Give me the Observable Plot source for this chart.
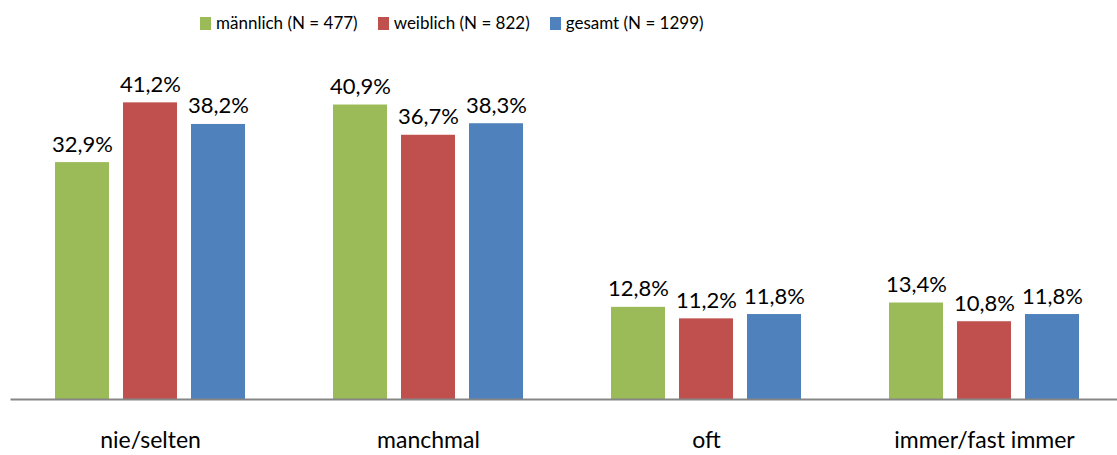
<!DOCTYPE html>
<html>
<head>
<meta charset="utf-8">
<script src="https://cdn.jsdelivr.net/npm/d3@7"></script>
<script src="https://cdn.jsdelivr.net/npm/@observablehq/plot@0.6"></script>
<style>
  body { margin: 0; background: #fff; font-family: Lato, sans-serif; }
  #legend { height: 45px; width: 1117px; display: flex; align-items: center; padding-left: 200px; box-sizing: border-box; }
  .item { display: flex; align-items: center; font-size: 17px; color: #000; margin-right: 20px; }
  .sw { width: 11px; height: 13px; margin-right: 5px; margin-top: 1px; }
</style>
</head>
<body>
<div id="legend"></div>
<div id="chart"></div>
<script>
const categories = ["nie/selten", "manchmal", "oft", "immer/fast immer"];
const series = ["männlich (N = 477)", "weiblich (N = 822)", "gesamt (N = 1299)"];
const maennlich = [32.9, 40.9, 12.8, 13.4];
const weiblich = [41.2, 36.7, 11.2, 10.8];
const gesamt = [38.2, 38.3, 11.8, 11.8];
const colors = ["#9BBB59", "#C0504D", "#4F81BD"];

const values = [maennlich, weiblich, gesamt];
const data = [];
categories.forEach((c, i) => {
  series.forEach((s, j) => data.push({cat: c, series: s, value: values[j][i]}));
});

// legend
const legend = document.getElementById("legend");
series.forEach((s, j) => {
  const it = document.createElement("div");
  it.className = "item";
  it.innerHTML = `<span class="sw" style="background:${colors[j]}"></span><span>${s}</span>`;
  legend.appendChild(it);
});

const fmt = v => v.toFixed(1).replace(".", ",") + "%";

const chart = Plot.plot({
  width: 1117,
  height: 410,
  marginTop: 30,
  marginBottom: 56,
  marginLeft: 10,
  marginRight: 0,
  style: {fontFamily: "Lato, sans-serif", background: "white", overflow: "visible"},
  fx: {domain: categories, range: [11, 1123], padding: 0, label: null, axis: "bottom", tickSize: 0, tickPadding: 32, fontSize: 23},
  x: {domain: series, paddingInner: 0.203, paddingOuter: 0.616, axis: null},
  y: {domain: [0, 45], axis: null},
  color: {domain: series, range: colors},
  marks: [
    Plot.barY(data, {fx: "cat", x: "series", y: "value", fill: "series"}),
    Plot.text(data, {fx: "cat", x: "series", y: "value", text: d => fmt(d.value), lineAnchor: "bottom", dy: -11, fontSize: 22, fill: "#000"}),
    Plot.frame({anchor: "bottom", facet: "super", stroke: "#868686", strokeWidth: 2})
  ]
});
chart.querySelectorAll("g[aria-label='fx-axis tick label'] text, g[aria-label='fx-axis tick label']").forEach(e => { e.setAttribute("font-size", "23"); e.setAttribute("fill", "#000"); });
document.getElementById("chart").appendChild(chart);
</script>
</body>
</html>
